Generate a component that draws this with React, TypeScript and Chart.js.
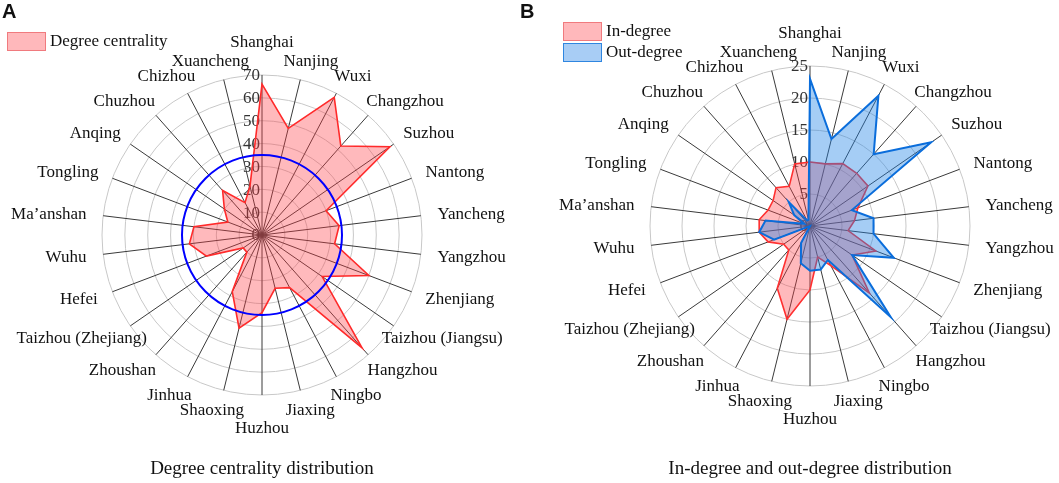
import React, { useEffect, useRef } from 'react';
import { Chart, registerables } from 'chart.js';

Chart.register(...registerables);

const cities = [
  'Shanghai', 'Nanjing', 'Wuxi', 'Changzhou', 'Suzhou', 'Nantong', 'Yancheng', 'Yangzhou',
  'Zhenjiang', 'Taizhou (Jiangsu)', 'Hangzhou', 'Ningbo', 'Jiaxing', 'Huzhou', 'Shaoxing',
  'Jinhua', 'Zhoushan', 'Taizhou (Zhejiang)', 'Hefei', 'Wuhu', 'Ma\u2019anshan', 'Tongling',
  'Anqing', 'Chuzhou', 'Chizhou', 'Xuancheng',
];

const degreeCentrality = [66, 48, 68, 52, 68, 30, 34, 32, 50, 32, 66, 26, 24, 34, 42, 28, 10, 10, 26, 32, 30, 16, 20, 26, 16, 22];
const inDegree = [10, 10, 11, 11, 11, 8, 7, 6, 11, 8, 14, 7, 5, 10, 15, 11, 5, 5, 7, 8, 8, 7, 7, 8, 7, 10];
const outDegree = [23, 14, 23, 15, 23, 7, 10, 10, 14, 8, 19, 6, 7, 7, 6, 3, 0, 0, 6, 8, 7, 1, 3, 5, 1, 1];

const degreeReference = 35;
const degreeAxisMax = 70;
const degreeAxisStep = 10;
const flowAxisMax = 25;
const flowAxisStep = 5;

const SERIF = "'Liberation Serif', 'Times New Roman', Times, serif";
const SANS = "'Liberation Sans', Arial, Helvetica, sans-serif";

function makeTextPlugin(refValue: number | null) {
  return {
    id: 'radarText',
    beforeDatasetsDraw(chart: any) {
      const s = chart.scales.r;
      const ctx = chart.ctx;
      ctx.save();
      ctx.font = `17px ${SERIF}`;
      ctx.fillStyle = '#333333';
      ctx.textAlign = 'right';
      ctx.textBaseline = 'middle';
      s.ticks.forEach((t: any) => {
        const d = s.getDistanceFromCenterForValue(t.value);
        ctx.fillText(String(t.value), s.xCenter - 2, s.yCenter - d + 1);
      });
      ctx.restore();
    },
    afterDatasetsDraw(chart: any) {
      const s = chart.scales.r;
      const ctx = chart.ctx;
      ctx.save();
      if (refValue !== null) {
        ctx.beginPath();
        ctx.strokeStyle = '#0000ff';
        ctx.lineWidth = 2;
        ctx.arc(s.xCenter, s.yCenter, s.getDistanceFromCenterForValue(refValue), 0, Math.PI * 2);
        ctx.stroke();
      }
      ctx.font = `17px ${SERIF}`;
      ctx.fillStyle = '#111111';
      ctx.textAlign = 'center';
      ctx.textBaseline = 'middle';
      (chart.data.labels as string[]).forEach((lab, i) => {
        const w = ctx.measureText(lab).width;
        const a = s.getIndexAngle(i);
        const axial = Math.abs(Math.sin(a)) < 0.05;
        const p = s.getPointPosition(i, s.drawingArea + 17);
        const x = p.x + Math.min(w / 2, 42) * Math.sin(a);
        const y = p.y - (axial ? 16 : 3) * Math.cos(a);
        ctx.fillText(lab, x, y + 1);
      });
      ctx.restore();
    },
  };
}

function radarScale(max: number, step: number) {
  return {
    r: {
      min: 0,
      max,
      ticks: { stepSize: step, display: false },
      grid: { circular: true, color: '#c8c8c8', lineWidth: 1 },
      angleLines: { color: '#3a3a3a', lineWidth: 1 },
      pointLabels: { display: false },
    },
  };
}

function DegreeChart() {
  const ref = useRef<HTMLCanvasElement>(null);
  useEffect(() => {
    const chart = new Chart(ref.current as HTMLCanvasElement, {
      type: 'radar',
      data: {
        labels: cities,
        datasets: [
          {
            label: 'Degree centrality',
            data: degreeCentrality,
            borderColor: '#ff2a2a',
            borderWidth: 1.6,
            backgroundColor: 'rgba(255, 60, 70, 0.36)',
            fill: true,
            pointRadius: 0,
          },
        ],
      },
      options: {
        responsive: false,
        animation: false,
        layout: { padding: { left: 102, right: 108, top: 75, bottom: 88 } },
        plugins: { legend: { display: false }, tooltip: { enabled: false } },
        scales: radarScale(degreeAxisMax, degreeAxisStep) as any,
      },
      plugins: [makeTextPlugin(degreeReference)],
    });
    return () => chart.destroy();
  }, []);
  return <canvas ref={ref} width={530} height={483} style={{ position: 'absolute', left: 0, top: 0 }} />;
}

function FlowChart() {
  const ref = useRef<HTMLCanvasElement>(null);
  useEffect(() => {
    const chart = new Chart(ref.current as HTMLCanvasElement, {
      type: 'radar',
      data: {
        labels: cities,
        datasets: [
          {
            label: 'In-degree',
            data: inDegree,
            borderColor: '#ff3030',
            borderWidth: 1.6,
            backgroundColor: 'rgba(255, 60, 70, 0.36)',
            fill: true,
            pointRadius: 0,
            order: 2,
          },
          {
            label: 'Out-degree',
            data: outDegree,
            borderColor: '#0a6ddb',
            borderWidth: 2,
            backgroundColor: 'rgba(30, 130, 230, 0.4)',
            fill: true,
            pointRadius: 0,
            order: 1,
          },
        ],
      },
      options: {
        responsive: false,
        animation: false,
        layout: { padding: { left: 120, right: 89, top: 66, bottom: 97 } },
        plugins: { legend: { display: false }, tooltip: { enabled: false } },
        scales: radarScale(flowAxisMax, flowAxisStep) as any,
      },
      plugins: [makeTextPlugin(null)],
    });
    return () => chart.destroy();
  }, []);
  return <canvas ref={ref} width={529} height={483} style={{ position: 'absolute', left: 530, top: 0 }} />;
}

function LegendItem(props: { left: number; top: number; fill: string; border: string; text: string }) {
  const { left, top, fill, border, text } = props;
  return (
    <>
      <div
        style={{
          position: 'absolute', left, top, width: 39, height: 19, boxSizing: 'border-box',
          background: fill, border: `1.5px solid ${border}`,
        }}
      />
      <div
        style={{
          position: 'absolute', left: left + 43, top: top - 2, font: `17px ${SERIF}`,
          lineHeight: '22px', color: '#111', whiteSpace: 'nowrap',
        }}
      >
        {text}
      </div>
    </>
  );
}

export default function App() {
  return (
    <div style={{ position: 'absolute', left: 0, top: 0, width: 1059, height: 483, background: '#fff', overflow: 'hidden' }}>
      <DegreeChart />
      <FlowChart />
      <div style={{ position: 'absolute', left: 2, top: 1, font: `bold 20px ${SANS}`, lineHeight: '20px', color: '#111' }}>A</div>
      <div style={{ position: 'absolute', left: 520, top: 1, font: `bold 20px ${SANS}`, lineHeight: '20px', color: '#111' }}>B</div>
      <LegendItem left={7} top={32} fill="#ffb8bb" border="#f07a7e" text="Degree centrality" />
      <LegendItem left={563} top={22} fill="#ffb8bb" border="#f07a7e" text="In-degree" />
      <LegendItem left={563} top={43} fill="#a8cdf5" border="#2f86e0" text="Out-degree" />
      <div style={{ position: 'absolute', left: 62, width: 400, top: 457, textAlign: 'center', font: `19px ${SERIF}`, lineHeight: '22px', color: '#111' }}>
        Degree centrality distribution
      </div>
      <div style={{ position: 'absolute', left: 610, width: 400, top: 457, textAlign: 'center', font: `19px ${SERIF}`, lineHeight: '22px', color: '#111' }}>
        In-degree and out-degree distribution
      </div>
    </div>
  );
}
